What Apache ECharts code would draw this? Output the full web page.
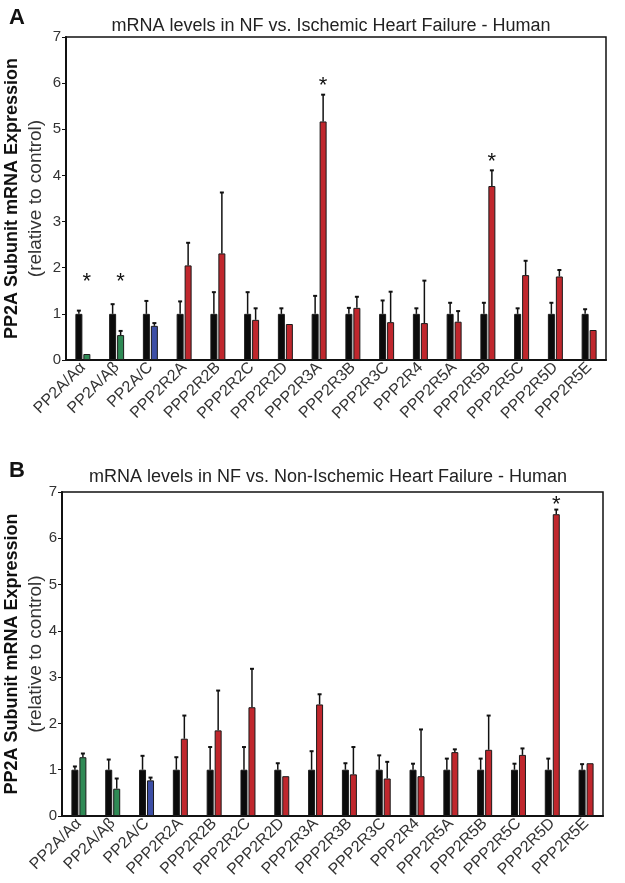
<!DOCTYPE html>
<html>
<head>
<meta charset="utf-8">
<script src="https://cdn.jsdelivr.net/npm/echarts@6/dist/echarts.min.js"></script>
<style>
html,body{margin:0;padding:0;background:#fff;}
#chart{width:625px;height:883px;}
</style>
</head>
<body>
<div id="chart"></div>
<script>
var categories = ['PP2A/Aα','PP2A/Aβ','PP2A/C','PPP2R2A','PPP2R2B','PPP2R2C','PPP2R2D','PPP2R3A',
                  'PPP2R3B','PPP2R3C','PPP2R4','PPP2R5A','PPP2R5B','PPP2R5C','PPP2R5D','PPP2R5E'];
var yTicks = [0,1,2,3,4,5,6,7];

// panel A - ischemic
var ctrlA    = [1,1,1,1,1,1,1,1,1,1,1,1,1,1,1,1];
var ctrlErrA = [1.07,1.21,1.28,1.27,1.47,1.47,1.12,1.39,1.13,1.29,1.12,1.24,1.24,1.12,1.24,1.10];
var hfA      = [0.13,0.54,0.74,2.05,2.31,0.87,0.78,5.17,1.13,0.82,0.80,0.83,3.77,1.84,1.81,0.65];
var hfErrA   = [0.15,0.63,0.80,2.54,3.63,1.12,0.78,5.75,1.37,1.48,1.72,1.06,4.11,2.15,1.95,0.65];
var starsA   = [[0,1.79],[1,1.79],[7,6.04],[12,4.41]];

// panel B - non-ischemic
var ctrlB    = [1,1,1,1,1,1,1,1,1,1,1,1,1,1,1,1];
var ctrlErrB = [1.07,1.22,1.30,1.27,1.49,1.49,1.14,1.40,1.14,1.31,1.13,1.24,1.24,1.13,1.24,1.12];
var hfB      = [1.27,0.59,0.77,1.67,1.85,2.35,0.86,2.41,0.90,0.81,0.86,1.38,1.43,1.32,6.52,1.14];
var hfErrB   = [1.35,0.81,0.83,2.17,2.71,3.18,0.87,2.63,1.49,1.17,1.87,1.44,2.17,1.46,6.62,1.16];
var starsB   = [[14,6.82]];

var BW = 7, GAP = 1;
function hfColor(i){ return i < 2 ? '#2f8a55' : (i === 2 ? '#3d4fa6' : '#c0272d'); }

function errSeries(idx, base, tops, dx){
  return {
    type:'custom', xAxisIndex:idx, yAxisIndex:idx, z:5,
    data: base.map(function(v,i){ return [i, v, tops[i]]; }),
    encode:{x:0, y:[1,2]},
    renderItem:function(params, api){
      var b = api.coord([api.value(0), api.value(1)]);
      var t = api.coord([api.value(0), api.value(2)]);
      var x = b[0] + dx;
      if (b[1] - t[1] < 1) return null;
      return {type:'group', children:[
        {type:'line', shape:{x1:x,y1:b[1],x2:x,y2:t[1]}, style:{stroke:'#111',lineWidth:1.5}},
        {type:'line', shape:{x1:x-2,y1:t[1],x2:x+2,y2:t[1]}, style:{stroke:'#111',lineWidth:2}}
      ]};
    }
  };
}
function starSeries(idx, stars){
  return {
    type:'custom', xAxisIndex:idx, yAxisIndex:idx, z:6,
    data: stars,
    renderItem:function(params, api){
      var p = api.coord([api.value(0), api.value(1)]);
      return {type:'text', x:p[0] + (BW+GAP)/2, y:p[1]+5,
        style:{text:'*', font:'22px "Liberation Sans"', fill:'#111', textAlign:'center', textVerticalAlign:'middle'}};
    }
  };
}
function barSeries(idx, vals, colorFn){
  return {
    type:'bar', xAxisIndex:idx, yAxisIndex:idx, barWidth:BW, barGap:'14%',
    data: vals.map(function(v,i){ return {value:v, itemStyle:{color:colorFn(i)}}; }),
    itemStyle:{borderColor:'#1a1a1a', borderWidth:1}
  };
}
function xAx(idx){
  return {
    type:'category', gridIndex:idx, data:categories,
    axisLine:{lineStyle:{color:'#111',width:2}}, axisTick:{show:false},
    axisLabel:{rotate:45, fontSize:16, color:'#333', fontFamily:'Liberation Sans', margin:5, interval:0}
  };
}
function yAx(idx, gap){
  return {
    type:'value', gridIndex:idx, min:0, max:7, interval:1,
    splitLine:{show:false},
    axisLine:{show:true, lineStyle:{color:'#111',width:2}},
    axisTick:{show:true, length:4, lineStyle:{color:'#111'}},
    axisLabel:{fontSize:15, color:'#333', fontFamily:'Liberation Sans', margin:5,
      formatter:function(v){ return yTicks.indexOf(v) >= 0 ? String(v) : ''; }},
    name:'{b|PP2A Subunit mRNA Expression}\n{n|(relative to control)}',
    nameLocation:'middle', nameRotate:90, nameGap:gap, nameMoveOverlap:false,
    nameTextStyle:{rich:{
      b:{fontSize:18, fontWeight:'bold', color:'#111', fontFamily:'Liberation Sans', lineHeight:24},
      n:{fontSize:19, color:'#333', fontFamily:'Liberation Sans', lineHeight:24}
    }}
  };
}

var chart = echarts.init(document.getElementById('chart'));
chart.setOption({
  animation:false,
  backgroundColor:'#fff',
  title:[
    {text:'A', left:4, top:2, textStyle:{fontSize:22, fontWeight:'bold', color:'#111', fontFamily:'Liberation Sans'}},
    {text:'mRNA levels in NF vs. Ischemic Heart Failure - Human', left:326, top:12, textAlign:'center',
      textStyle:{fontSize:18, fontWeight:'normal', color:'#222', fontFamily:'Liberation Sans'}},
    {text:'B', left:4, top:455, textStyle:{fontSize:22, fontWeight:'bold', color:'#111', fontFamily:'Liberation Sans'}},
    {text:'mRNA levels in NF vs. Non-Ischemic Heart Failure - Human', left:323, top:463, textAlign:'center',
      textStyle:{fontSize:18, fontWeight:'normal', color:'#222', fontFamily:'Liberation Sans'}}
  ],
  grid:[
    {left:66, top:37, width:540, height:323, show:true, borderColor:'#111', borderWidth:1.5, outerBoundsMode:'none'},
    {left:62, top:492, width:541, height:324, show:true, borderColor:'#111', borderWidth:1.5, outerBoundsMode:'none'}
  ],
  xAxis:[xAx(0), xAx(1)],
  yAxis:[yAx(0, 18), yAx(1, 14)],
  series:[
    barSeries(0, ctrlA, function(){ return '#0b0b0b'; }),
    barSeries(0, hfA, hfColor),
    errSeries(0, ctrlA, ctrlErrA, -(BW+GAP)/2),
    errSeries(0, hfA, hfErrA, (BW+GAP)/2),
    starSeries(0, starsA),
    barSeries(1, ctrlB, function(){ return '#0b0b0b'; }),
    barSeries(1, hfB, hfColor),
    errSeries(1, ctrlB, ctrlErrB, -(BW+GAP)/2),
    errSeries(1, hfB, hfErrB, (BW+GAP)/2),
    starSeries(1, starsB)
  ]
});
</script>
</body>
</html>
